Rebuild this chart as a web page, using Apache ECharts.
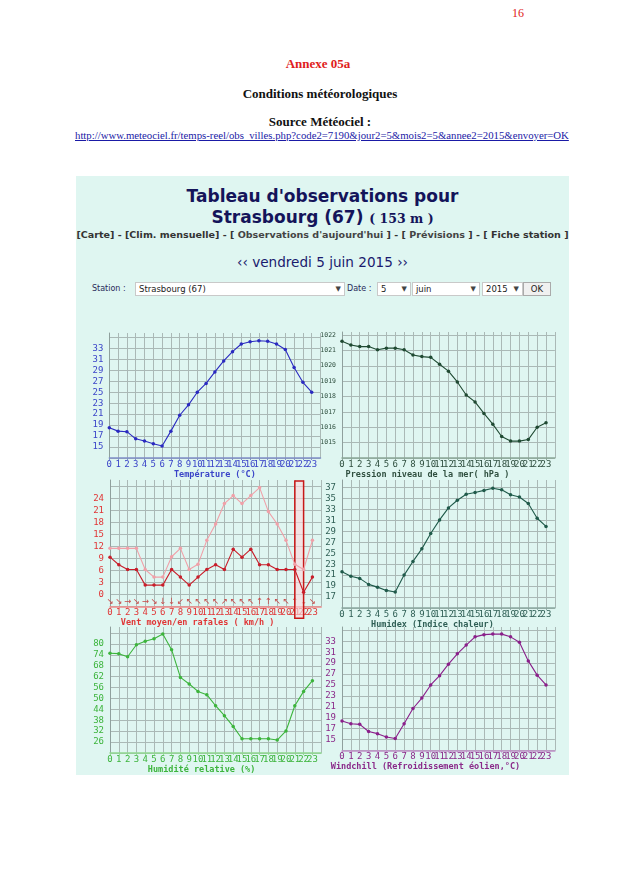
<!DOCTYPE html>
<html>
<head>
<meta charset="utf-8">
<script src="https://cdn.jsdelivr.net/npm/echarts@6/dist/echarts.min.js"></script>
<style>
  html,body{margin:0;padding:0;background:#fff;width:636px;height:896px;overflow:hidden;}
  .abs{position:absolute;white-space:nowrap;}
  .serif{font-family:"Liberation Serif","DejaVu Serif",serif;}
  .ctr{left:0;width:636px;text-align:center;}
  .pctr{left:76px;width:493px;text-align:center;}
  #panel{position:absolute;left:76px;top:176px;width:493px;height:599px;background:#dff6f1;}
  .sel{position:absolute;top:282px;height:12px;background:#fff;border:1px solid #c9c9c9;font-family:Tahoma,"DejaVu Sans",sans-serif;font-size:8.5px;line-height:12px;color:#222;padding-left:3px;box-sizing:content-box;}
  .sel .ar{position:absolute;right:3px;top:0;font-size:7px;color:#444;}
  .lab{position:absolute;top:282px;font-family:"DejaVu Sans",sans-serif;font-size:8px;line-height:13px;color:#2a2a5a;}
  #chart{position:absolute;left:76px;top:320px;width:493px;height:455px;}
</style>
</head>
<body>
<div class="abs serif" style="left:512px;top:6px;font-size:12px;color:#e02020;">16</div>
<div class="abs serif ctr" style="top:56px;font-size:13px;font-weight:bold;color:#e02020;">Annexe 05a</div>
<div class="abs serif ctr" style="top:86px;font-size:13px;font-weight:bold;color:#111;left:2px;">Conditions météorologiques</div>
<div class="abs serif ctr" style="top:114px;font-size:13px;font-weight:bold;color:#111;left:2px;">Source Météociel :</div>
<div class="abs serif" style="left:75px;top:129px;font-size:10.75px;color:#1a1aa6;text-decoration:underline;">http://www.meteociel.fr/temps-reel/obs_villes.php?code2=7190&amp;jour2=5&amp;mois2=5&amp;annee2=2015&amp;envoyer=OK</div>

<div id="panel"></div>
<div class="abs pctr" style="top:186px;font-family:'DejaVu Sans',sans-serif;font-weight:bold;font-size:17px;color:#14145a;">Tableau d'observations pour</div>
<div class="abs pctr" style="top:207px;font-family:'DejaVu Sans',sans-serif;font-weight:bold;font-size:17px;color:#14145a;">Strasbourg (67) <span style="font-family:'DejaVu Serif',serif;font-size:12.5px;">( 153 m )</span></div>
<div class="abs pctr" style="top:229px;font-family:'DejaVu Sans',sans-serif;font-weight:bold;font-size:9.55px;color:#333;">[Carte] - [Clim. mensuelle] - [ <span style="color:#444">Observations d'aujourd'hui</span> ] - [ <span style="color:#444">Prévisions</span> ] - [ Fiche station ]</div>
<div class="abs pctr" style="top:254px;font-family:'DejaVu Sans',sans-serif;font-size:13.6px;color:#1a1a6e;">‹‹ vendredi 5 juin 2015 ››</div>

<div class="lab" style="left:92px;">Station :</div>
<div class="sel" style="left:135px;width:205px;">Strasbourg (67)<span class="ar">▼</span></div>
<div class="lab" style="left:347px;">Date :</div>
<div class="sel" style="left:377px;width:29px;">5<span class="ar">▼</span></div>
<div class="sel" style="left:412px;width:63px;">juin<span class="ar">▼</span></div>
<div class="sel" style="left:482px;width:36px;">2015<span class="ar">▼</span></div>
<div class="sel" style="left:523px;width:26px;padding-left:0;text-align:center;background:#f0f0f0;border-color:#aaa;">OK</div>

<div id="chart"></div>
<script>
// ---- data (hourly observations, 5 June 2015, Strasbourg) ----
const hours = [0,1,2,3,4,5,6,7,8,9,10,11,12,13,14,15,16,17,18,19,20,21,22,23];
const temperature = [18.5,17.9,17.8,16.5,16.1,15.6,15.2,17.9,20.8,22.7,25.0,26.6,28.7,30.7,32.4,33.8,34.2,34.4,34.3,33.8,32.8,29.5,26.8,25.0];
const pressure = [1021.6,1021.35,1021.25,1021.25,1021.05,1021.15,1021.15,1021.05,1020.7,1020.6,1020.55,1020.1,1019.65,1018.95,1018.1,1017.65,1016.9,1016.2,1015.4,1015.1,1015.1,1015.2,1016.0,1016.3];
const windMean = [9.3,7.4,6.2,6.2,2.3,2.3,2.3,6.2,4.3,2.3,4.3,6.2,7.4,6.2,11.3,9.3,11.3,7.4,7.4,6.2,6.2,6.2,0.5,4.3];
const windGust = [11.5,11.5,11.5,11.5,6.2,4.3,4.3,9.4,11.5,6.2,7.5,13.5,17.6,22.7,24.7,22.7,24.7,26.7,20.7,17.6,13.5,7.5,6.2,13.5];
const windDir = ["↘","↘","→","↘","→","↘","↓","↓","↙","↖","↖","↖","↖","↗","↖","↖","↖","↑","↑","↖","↖","↑","↓","↘"];
const humidex = [21.6,20.8,20.4,19.3,18.8,18.2,17.9,21.0,23.5,25.8,28.6,31.1,33.3,34.7,35.8,36.1,36.5,36.9,36.6,35.7,35.3,34.1,31.4,29.9];
const humidity = [74.9,74.7,73.0,79.6,81.5,82.9,85.5,76.9,61.6,58.0,53.9,52.1,46.0,40.5,34.6,27.8,27.8,27.8,27.8,27.1,32.1,46.0,53.9,59.8];
const windchill = [18.4,17.9,17.8,16.5,16.1,15.5,15.2,17.9,20.7,22.6,25.0,26.7,28.8,30.7,32.3,33.8,34.2,34.3,34.3,33.8,32.8,29.4,26.8,25.0];
const highlightHours = [21, 22];

const panels = [
  {name:'Température (°C)', data:temperature, min:13, max:35.8, step:2, labelMax:33, nameShift:0, color:'#2a2ac0', label:'#3a44c8', axis:'#8090c8', grid:{left:33.3,top:13,width:211.2,height:125}, yfs:9},
  {name:'Pression niveau de la mer( hPa )', data:pressure, min:1014, max:1022.2, step:1, labelMax:1022, nameShift:21, color:'#1f4a32', label:'#2f4f3f', axis:'#8aa898', grid:{left:266,top:12,width:212.9,height:126}, yfs:6.5},
  {name:'Vent moyen/en rafales ( km/h )', data:windMean, min:-3, max:28.6, step:3, labelMax:24, nameShift:18, color:'#c81e2a', label:'#e03535', axis:'#f08a8a', grid:{left:34,top:160,width:211.2,height:126.3}, yfs:9},
  {name:'Humidex (Indice chaleur)', data:humidex, min:15, max:38.4, step:2, labelMax:37, nameShift:16, color:'#1f5a4a', label:'#2f5f55', axis:'#8aa8a0', grid:{left:266,top:160,width:212.9,height:127.9}, yfs:9},
  {name:'Humidité relative (%)', data:humidity, min:20, max:89.4, step:6, labelMax:80, nameShift:14, color:'#3cb43c', label:'#3cb43c', axis:'#90d890', grid:{left:34,top:307,width:211.2,height:125.9}, yfs:9},
  {name:'Windchill (Refroidissement éolien,°C)', data:windchill, min:13, max:35.6, step:2, labelMax:33, nameShift:23, color:'#8a1f8a', label:'#8a2a8a', axis:'#c090c8', grid:{left:266,top:307,width:212.9,height:123.6}, yfs:9}
];

const gridLine = '#aab9b6';
const mono = '"DejaVu Sans Mono", monospace';
const grids = [], xAxes = [], yAxes = [], series = [];
panels.forEach((p, i) => {
  grids.push(Object.assign({containLabel:false}, p.grid));
  xAxes.push({
    type:'value', gridIndex:i, min:0, max:24, interval:1,
    name:p.name, nameLocation:'middle', nameGap:10,
    nameTextStyle:{fontFamily:mono, fontWeight:'bold', fontSize:8.5, color:p.label, padding:[0, 2*p.nameShift, 0, 0]},
    axisLine:{show:true, onZero:false, lineStyle:{color:p.axis, width:1.5}},
    axisTick:{show:true, length:2, lineStyle:{color:p.axis}},
    axisLabel:{fontFamily:mono, fontSize:9, color:p.label, margin:2, showMaxLabel:false,
      formatter: v => (v >= 24 ? '' : String(v))},
    splitLine:{show:true, lineStyle:{color:gridLine, width:1}}
  });
  yAxes.push({
    type:'value', gridIndex:i, min:p.min, max:p.max, interval:p.step,
    axisLine:{show:true, lineStyle:{color:'#8fa09d', width:1}},
    axisTick:{show:false},
    axisLabel:{fontFamily:mono, fontSize:p.yfs, color:p.label, margin:6, showMinLabel:false, showMaxLabel:false,
      formatter: v => (v > p.labelMax + 0.01 || v < p.min + p.step - 0.01) ? '' : String(Math.round(v))},
    splitLine:{show:true, showMaxLine:false, lineStyle:{color:gridLine, width:1}}
  });
  if (i === 2) {
    series.push({
      type:'line', xAxisIndex:i, yAxisIndex:i, data:hours.map((h,k)=>[h, windGust[k]]),
      symbol:'circle', symbolSize:3.5, itemStyle:{color:'#f0a0a8'}, lineStyle:{color:'#f0a0a8', width:1.1},
      silent:true, animation:false, z:3
    });
  }
  series.push({
    type:'line', xAxisIndex:i, yAxisIndex:i, data:hours.map((h,k)=>[h, p.data[k]]),
    symbol:'circle', symbolSize:3.5, itemStyle:{color:p.color}, lineStyle:{color:p.color, width:1.1},
    silent:true, animation:false, z:4
  });
});
// wind direction arrows, drawn as an extra category axis inside the wind panel
xAxes.push({
  type:'category', gridIndex:2, position:'bottom', boundaryGap:false,
  data: windDir.concat(['']),
  axisLine:{show:false}, axisTick:{show:false}, splitLine:{show:false},
  axisLabel:{inside:true, margin:0, interval:0, fontSize:8.5, color:'#c84848', fontFamily:'"DejaVu Sans", sans-serif'}
});

const chart = echarts.init(document.getElementById('chart'), null, {renderer:'canvas'});
chart.setOption({
  animation:false,
  backgroundColor:'transparent',
  grid:grids, xAxis:xAxes, yAxis:yAxes, series:series
});

// highlighted wind interval (red box), drawn beneath the series lines
const xa = chart.convertToPixel({xAxisIndex:2}, highlightHours[0]);
const xb = chart.convertToPixel({xAxisIndex:2}, highlightHours[1]);
const yt = chart.convertToPixel({yAxisIndex:2}, panels[2].max) + 1;
const yb = chart.convertToPixel({yAxisIndex:2}, panels[2].min) + 12;
chart.setOption({
  graphic:[{type:'rect', z:2, silent:true,
    shape:{x:xa, y:yt, width:xb-xa, height:yb-yt},
    style:{fill:'rgba(255,215,220,0.6)', stroke:'#c81818', lineWidth:1.5}}]
});
</script>
</body>
</html>
